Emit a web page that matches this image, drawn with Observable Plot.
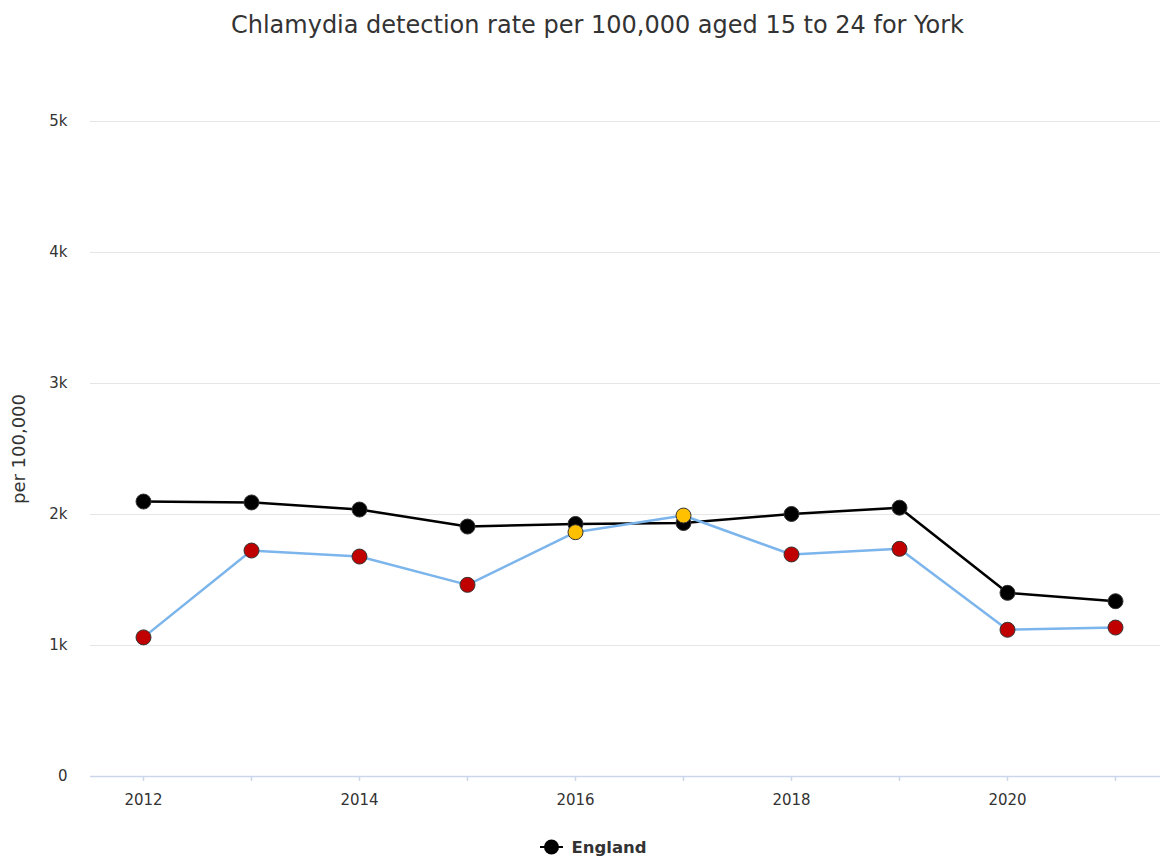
<!DOCTYPE html>
<html>
<head>
<meta charset="utf-8">
<script src="https://cdn.jsdelivr.net/npm/d3@7"></script>
<script src="https://cdn.jsdelivr.net/npm/@observablehq/plot@0.6"></script>
<style>
  body { margin: 0; background: #fff; font-family: "DejaVu Sans", sans-serif; }
  #wrap { position: relative; width: 1161px; height: 856px; overflow: hidden; }
  #title { position: absolute; left: 17px; top: 10px; width: 1161px; text-align: center; font-size: 24px; line-height: 30px; color: #333; }
  #chart { position: absolute; left: 0; top: 50px; }
  #legend { position: absolute; left: 13px; top: 837px; width: 1161px; text-align: center; font-size: 16.5px; line-height: 22px; font-weight: bold; color: #333; }
  #legend svg { vertical-align: -3px; margin-right: 8px; }
</style>
</head>
<body>
<div id="wrap">
  <div id="title">Chlamydia detection rate per 100,000 aged 15 to 24 for York</div>
  <div id="chart"></div>
  <div id="legend"><svg width="23" height="18"><line x1="0" x2="23" y1="9" y2="9" stroke="#000" stroke-width="2"/><circle cx="11.5" cy="9" r="7.5" fill="#000"/></svg>England</div>
</div>
<script>
const years = [2012, 2013, 2014, 2015, 2016, 2017, 2018, 2019, 2020, 2021];
const england = [2099, 2092, 2038, 1908, 1928, 1935, 2004, 2052, 1402, 1338];
const york = [1062, 1725, 1679, 1463, 1865, 1992, 1695, 1738, 1120, 1137];
const yorkSignificance = ["Worse", "Worse", "Worse", "Worse", "Similar", "Similar", "Worse", "Worse", "Worse", "Worse"];
const yTicks = [0, 1000, 2000, 3000, 4000, 5000];
const xLabelYears = [2012, 2014, 2016, 2018, 2020];

const data = years.map((y, i) => ({year: y, england: england[i], york: york[i], sig: yorkSignificance[i]}));

const chart = Plot.plot({
  width: 1161,
  height: 770,
  marginTop: 71,
  marginBottom: 44,
  marginLeft: 90,
  marginRight: 1,
  style: {fontFamily: "DejaVu Sans, sans-serif", color: "#333", background: "#fff"},
  x: {domain: [2012, 2021], range: [143, 1115]},
  y: {domain: [0, 5000]},
  color: {domain: ["Worse", "Similar"], range: ["#c00000", "#ffc000"]},
  marks: [
    Plot.ruleY(yTicks.filter(d => d > 0), {stroke: "#e6e6e6", strokeWidth: 1}),
    Plot.axisY({ticks: yTicks, tickSize: 0, tickPadding: 23, fontSize: 15, fill: "#333",
      tickFormat: d => d === 0 ? "0" : (d / 1000) + "k", label: null}),
    Plot.axisY({ticks: [], label: "per 100,000", labelAnchor: "center", labelArrow: "none", labelOffset: 78, fontSize: 18, fill: "#333"}),
    Plot.axisX({ticks: years, tickSize: 5, stroke: "#ccd6eb", strokeWidth: 1.5, tickFormat: () => "", label: null}),
    Plot.axisX({ticks: xLabelYears, tickSize: 0, tickPadding: 18, fontSize: 15, fill: "#333", tickFormat: d => String(d), label: null}),
    Plot.ruleY([0], {stroke: "#ccd6eb", strokeWidth: 1.5}),
    Plot.line(data, {x: "year", y: "england", stroke: "#000", strokeWidth: 2.5}),
    Plot.dot(data, {x: "year", y: "england", r: 7.5, fill: "#000", stroke: "#333", strokeWidth: 1}),
    Plot.line(data, {x: "year", y: "york", stroke: "#7cb5ec", strokeWidth: 2.5}),
    Plot.dot(data, {x: "year", y: "york", r: 7.5, fill: "sig", stroke: "#333", strokeWidth: 1})
  ]
});
document.getElementById("chart").appendChild(chart);
</script>
</body>
</html>
